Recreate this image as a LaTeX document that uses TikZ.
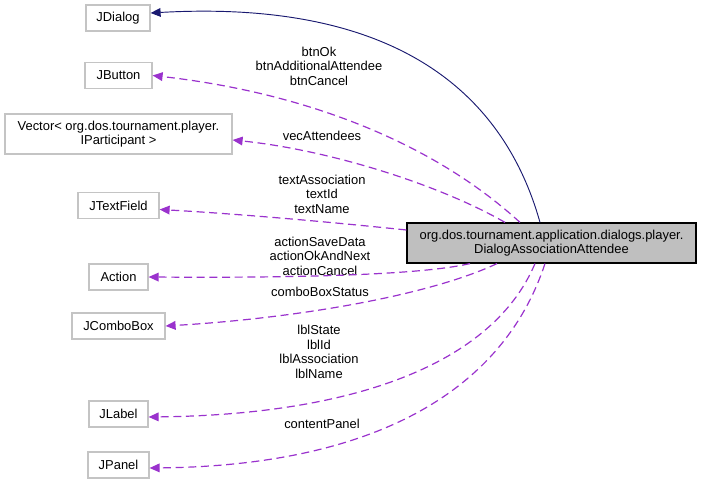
\documentclass[tikz,border=0pt]{standalone}
\usepackage{fontspec}
\setmainfont{Liberation Sans}
\usetikzlibrary{arrows.meta,calc}
\definecolor{edgenavy}{HTML}{191970}
\definecolor{edgeorchid}{HTML}{9A32CD}
\definecolor{boxgrey}{HTML}{C4C4C4}
\definecolor{mainfill}{HTML}{BFBFBF}
\tikzset{
  cls/.style={draw=boxgrey,fill=white,line width=0.9pt,align=center,inner sep=0pt,
    minimum width=#1*0.75pt,minimum height=19.5pt},
  cls/.default=60,
  mainbox/.style={draw=black,fill=mainfill,line width=0.9pt,align=center,inner sep=0pt,
    minimum width=289*0.75pt,minimum height=30pt},
  inherit/.style={-{Triangle[length=7.5pt,width=6.5pt]},draw=edgenavy,line width=0.7pt},
  uses/.style={-{Triangle[length=7.5pt,width=6.5pt]},draw=edgeorchid,line width=0.9pt,
    dash pattern=on 6pt off 3.5pt},
  usesnote/.style={align=center,inner sep=0pt},
}
\begin{document}
\begin{tikzpicture}[x=0.75pt,y=0.75pt,font=\fontsize{9.7}{10.9}\selectfont]
  \useasboundingbox (0,0) rectangle (701,-484);
  % classes
  \node[mainbox] (main) at (551.5,-243) {org.dos.tournament.application.dialogs.player.\\DialogAssociationAttendee};
  \node[cls=64] (jdialog) at (118,-18) {JDialog};
  \node[cls=67] (jbutton) at (118.5,-75.5) {JButton};
  \node[cls=227,minimum height=30pt] (vector) at (118.5,-134) {Vector\textless{} org.dos.tournament.player.\\IParticipant \textgreater{}};
  \node[cls=81] (jtextfield) at (118.5,-205.5) {JTextField};
  \node[cls=59] (action) at (118.5,-277) {Action};
  \node[cls=93] (jcombobox) at (118.5,-326) {JComboBox};
  \node[cls=59] (jlabel) at (118.5,-414) {JLabel};
  \node[cls=61] (jpanel) at (118.5,-465) {JPanel};
  % member labels
  \node[usesnote] (lbtn) at (319,-66) {btnOk\\btnAdditionalAttendee\\btnCancel};
  \node[usesnote] (lvec) at (322,-136) {vecAttendees};
  \node[usesnote] (ltext) at (322,-194) {textAssociation\\textId\\textName};
  \node[usesnote] (laction) at (320,-256) {actionSaveData\\actionOkAndNext\\actionCancel};
  \node[usesnote] (lcombo) at (320,-292) {comboBoxStatus};
  \node[usesnote] (llbl) at (319,-352) {lblState\\lblId\\lblAssociation\\lblName};
  \node[usesnote] (lpanel) at (322,-424) {contentPanel};
  % edges
  \draw[inherit] ($(main.north)+(-11.5,0)$) .. controls (500,-80) and (380,0) .. ($(jdialog.east)+(0,5)$);
  \draw[uses] ($(main.north)+(-31.5,0)$) .. controls (430,-140) and (300,-92) .. (jbutton.east);
  \draw[uses] ($(main.north)+(-46.5,0)$) .. controls (440,-185) and (330,-150) .. ($(vector.east)+(0,-6)$);
  \draw[uses] ($(main.west)+(0,13)$) .. controls (330,-222) and (240,-214) .. ($(jtextfield.east)+(0,-4)$);
  \draw[uses] ($(main.south)+(-81.5,0)$) .. controls (420,-275) and (300,-278) .. (action.east);
  \draw[uses] ($(main.south)+(-54.5,0)$) .. controls (430,-295) and (300,-318) .. (jcombobox.east);
  \draw[uses] ($(main.south)+(-16.5,0)$) .. controls (490,-370) and (340,-415) .. ($(jlabel.east)+(0,-3)$);
  \draw[uses] ($(main.south)+(-6.5,0)$) .. controls (500,-400) and (360,-466) .. ($(jpanel.east)+(0,-3)$);
\end{tikzpicture}
\end{document}
